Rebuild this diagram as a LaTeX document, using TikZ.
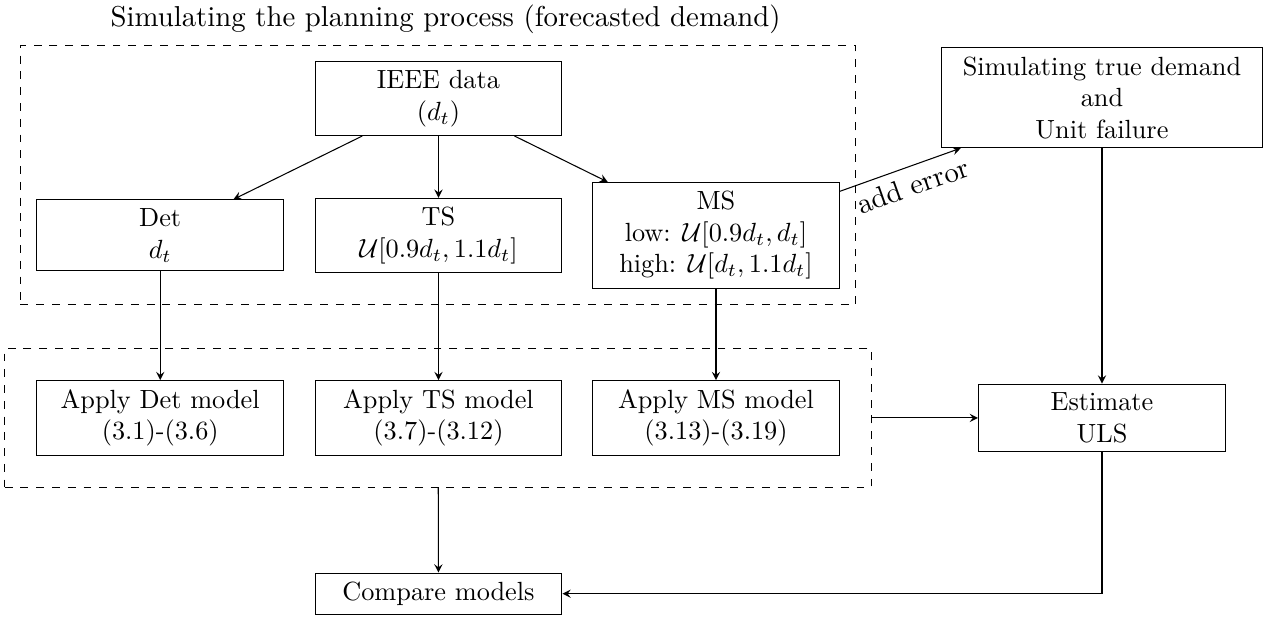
\documentclass[tikz,border=0pt]{standalone}
\usetikzlibrary{positioning,fit,arrows}

\begin{document}
\begin{tikzpicture}[node distance=20mm, >=stealth, block/.style={rectangle, draw, align=center, minimum width=33mm}, dashgroup/.style={rectangle, draw, dashed}, captionfont/.style={font=\fontsize{10.95pt}{13.6pt}\selectfont}]
  \useasboundingbox (-5.862,1.317) rectangle (11.143,-6.932);

  \node[block] (ieee) {IEEE data\\$(d_t)$};
  \node[block, below of=ieee, node distance=18.3mm] (ts) {TS\\$\mathcal{U}[0.9d_t, 1.1d_t]$};
  \node[block, left of=ts, node distance=37.2mm] (det) {Det\\$d_t$};
  \node[block, right of=ts, node distance=37.1mm] (ms) {MS\\low: $\mathcal{U}[0.9d_t, d_t]$\\high: $\mathcal{U}[d_t, 1.1d_t]$};

  \node[block, below of=det, node distance=24.4mm] (applydet) {Apply Det model\\(3.1)-(3.6)};
  \node[block, below of=ts, node distance=24.4mm] (applyts) {Apply TS model\\(3.7)-(3.12)};
  \node[block, below of=ms, node distance=24.4mm] (applyms) {Apply MS model\\(3.13)-(3.19)};

  \node[dashgroup, fit=(ieee)(det)(ms), inner sep=6pt, label={[captionfont, label distance=0.5pt, xshift=1mm]above:Simulating the planning process (forecasted demand)}] (planning) {};
  \node[dashgroup, fit=(applydet)(applyms), inner sep=12pt] (models) {};

  \node[block, below of=applyts, node distance=23.5mm] (compare) {Compare models};
  \node[block, right of=applyms, node distance=51.6mm] (uls) {Estimate\\ULS};
  \node[block, minimum width=43mm, above of=uls, node distance=42.8mm] (truth) {Simulating true demand\\and\\Unit failure};

  \draw[->] (ieee) -- (det);
  \draw[->] (ieee) -- (ts);
  \draw[->] (ieee) -- (ms);

  \draw[->] (det) -- (applydet);
  \draw[->] (ts) -- (applyts);
  \draw[->] (ms) -- (applyms);

  \draw[->] (ms) -- node[captionfont, below, sloped, pos=0.55] {add error} (truth);
  \draw[->] (truth) -- (uls);
  \draw[->] (models) -- (uls);
  \draw[->] (models) -- (compare);
  \draw[->] (uls) |- (compare);

\end{tikzpicture}
\end{document}
